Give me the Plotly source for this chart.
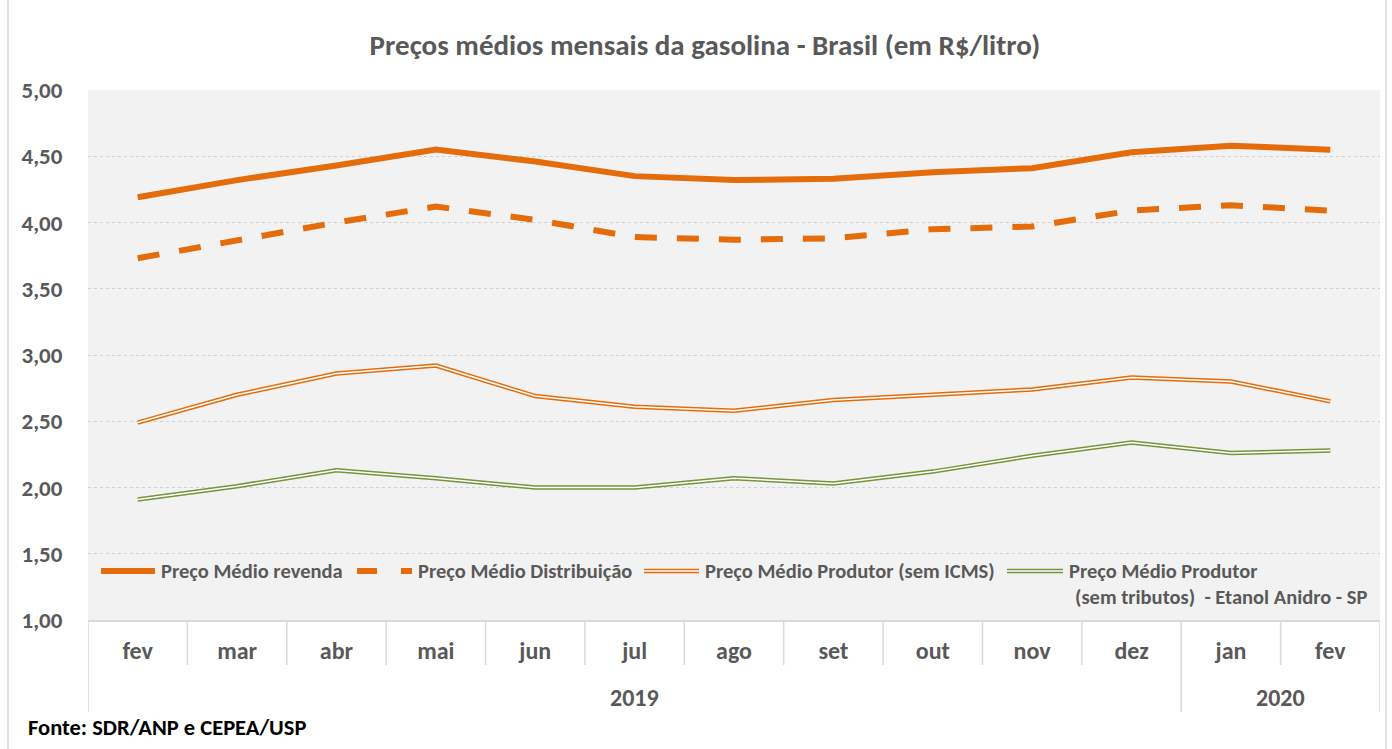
import plotly.graph_objects as go

months = ["fev", "mar", "abr", "mai", "jun", "jul", "ago", "set", "out", "nov", "dez", "jan", "fev"]
years = ["2019", "2020"]
year_span = [(0, 10), (11, 12)]

revenda = [4.19, 4.32, 4.43, 4.55, 4.46, 4.35, 4.32, 4.33, 4.38, 4.41, 4.53, 4.58, 4.55]
distribuicao = [3.73, 3.87, 4.00, 4.12, 4.02, 3.89, 3.87, 3.88, 3.95, 3.97, 4.09, 4.13, 4.09]
produtor = [2.49, 2.70, 2.86, 2.92, 2.69, 2.61, 2.58, 2.66, 2.70, 2.74, 2.83, 2.80, 2.65]
etanol = [1.91, 2.01, 2.13, 2.07, 2.00, 2.00, 2.07, 2.03, 2.12, 2.24, 2.34, 2.26, 2.28]

names = ["Preço Médio revenda", "Preço Médio Distribuição", "Preço Médio Produtor (sem ICMS)",
         "Preço Médio Produtor", "(sem tributos)  - Etanol Anidro - SP"]

ORANGE = "#E46C0A"
GREEN = "#77933C"
GREY_TXT = "#595959"
FONT = "Carlito, Lato, sans-serif"

W, H = 1392, 749
L, R, T, B = 88, 1380, 90, 620
PW, PH = R - L, B - T

def px(x):
    return (x - L) / PW

def py(y):
    return (B - y) / PH

x = list(range(len(months)))
fig = go.Figure()
fig.add_trace(go.Scatter(x=x, y=revenda, mode="lines", line=dict(color=ORANGE, width=6), showlegend=False))
fig.add_trace(go.Scatter(x=x, y=distribuicao, mode="lines", line=dict(color=ORANGE, width=6, dash="22px,20px"), showlegend=False))
fig.add_trace(go.Scatter(x=x, y=produtor, mode="lines", line=dict(color=ORANGE, width=4.5), showlegend=False))
fig.add_trace(go.Scatter(x=x, y=produtor, mode="lines", line=dict(color="white", width=1.5), showlegend=False))
fig.add_trace(go.Scatter(x=x, y=etanol, mode="lines", line=dict(color=GREEN, width=4.5), showlegend=False))
fig.add_trace(go.Scatter(x=x, y=etanol, mode="lines", line=dict(color="white", width=1.5), showlegend=False))

shapes = []
annotations = []
DIV = "#d9d9d9"
# category dividers
for k in range(len(months) + 1):
    xv = k - 0.5
    full = (k == 0) or (k == len(months)) or any(k == s for (s, e) in year_span)
    y1 = py(712) if full else py(665)
    shapes.append(dict(type="line", xref="x", yref="paper", x0=xv, x1=xv, y0=0, y1=y1,
                       line=dict(color=DIV, width=1.5)))
for (s, e), yr in zip(year_span, years):
    annotations.append(dict(x=(s + e) / 2, y=py(697), xref="x", yref="paper", text=yr, showarrow=False,
                            font=dict(family=FONT, size=24, color=GREY_TXT, weight="bold"),
                            xanchor="center", yanchor="middle"))

# legend (manual)
LY1, LY2 = 571, 597
lf = dict(family=FONT, size=20.5, color=GREY_TXT, weight="bold")
def legline(x0, x1, color, width):
    shapes.append(dict(type="line", xref="paper", yref="paper", x0=px(x0), x1=px(x1), y0=py(LY1), y1=py(LY1),
                       line=dict(color=color, width=width)))
legline(101, 155, ORANGE, 6)
legline(357, 377, ORANGE, 6)
legline(401, 412, ORANGE, 6)
legline(644, 699, ORANGE, 4.5)
legline(644, 699, "white", 1.5)
legline(1007, 1063, GREEN, 4.5)
legline(1007, 1063, "white", 1.5)
for xt, yt, txt in [(159, LY1, names[0]), (416, LY1, names[1]), (703, LY1, names[2]),
                    (1067, LY1, names[3]), (1073, LY2, names[4])]:
    annotations.append(dict(x=px(xt), y=py(yt), xref="paper", yref="paper", text=txt, showarrow=False,
                            xanchor="left", yanchor="middle", font=lf))

# source
annotations.append(dict(x=px(26), y=py(727), xref="paper", yref="paper", text="Fonte: SDR/ANP e CEPEA/USP",
                        showarrow=False, xanchor="left", yanchor="middle",
                        font=dict(family=FONT, size=22.5, color="black", weight="bold")))

# outer border
shapes.append(dict(type="rect", xref="paper", yref="paper", x0=px(8), x1=px(1386), y0=py(-5), y1=py(755),
                   line=dict(color="#d9d9d9", width=1.5), fillcolor="rgba(0,0,0,0)", layer="below"))

fig.update_layout(
    width=W, height=H,
    margin=dict(l=L, r=W - R, t=T, b=H - B, pad=0),
    paper_bgcolor="white", plot_bgcolor="#F2F2F2",
    separators=",.",
    title=dict(text="Preços médios mensais da gasolina - Brasil (em R$/litro)", x=705 / W, xref="container",
               xanchor="center", y=1 - 45 / H, yref="container", yanchor="middle",
               font=dict(family=FONT, size=29, color=GREY_TXT, weight="bold")),
    xaxis=dict(range=[-0.5, len(months) - 0.5], tickvals=x, ticktext=months, showgrid=False, zeroline=False,
               showline=True, linecolor="#d9d9d9", linewidth=1.5, ticks="", ticklabelstandoff=8,
               tickfont=dict(family=FONT, size=24, color=GREY_TXT, weight="bold")),
    yaxis=dict(range=[1, 5], dtick=0.5, tickformat=".2f", showgrid=True, gridcolor="#d0d0d0", griddash="dot",
               gridwidth=1, zeroline=False, showline=False, ticks="outside", ticklen=20,
               tickcolor="rgba(0,0,0,0)", tickfont=dict(family=FONT, size=23, color=GREY_TXT, weight="bold")),
    shapes=shapes, annotations=annotations,
)
fig.write_html("out.html", config={"displayModeBar": False},
               post_script="document.body.style.margin='0px';document.body.style.overflow='hidden';")
